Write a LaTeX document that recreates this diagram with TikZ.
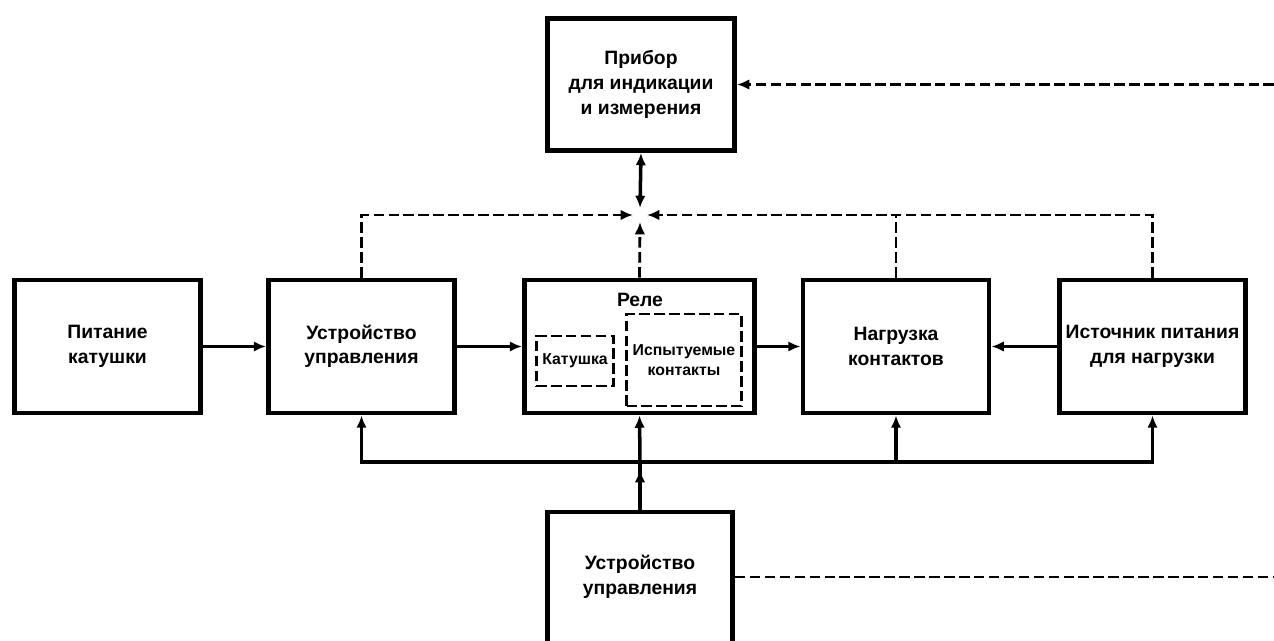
\documentclass[tikz,border=0pt]{standalone}
\usepackage{fontspec}
\setmainfont{Liberation Sans}
\usetikzlibrary{arrows.meta}
\begin{document}
\begin{tikzpicture}[x=0.02cm,y=-0.02cm,
    blk/.style={draw,line width=2.8pt,minimum width=3.72cm,minimum height=2.66cm,align=center,font=\bfseries\fontsize{11}{14}\selectfont},
    inblk/.style={draw,line width=1.6pt,dash pattern=on 6pt off 2.5pt,align=center,font=\bfseries\fontsize{9}{11}\selectfont},
    arr/.style={line width=2pt,-{Latex[length=7pt,width=6pt]}},
    dsh/.style={line width=1.6pt,dash pattern=on 6pt off 2.5pt},
    dsharr/.style={dsh,-{Latex[length=7pt,width=6pt]}}]
        \useasboundingbox (0,0) rectangle (1274,641);
        \clip (0,0) rectangle (1274,641);
        \node[blk] (coilsup) at (107.5,346.5) {Питание\\катушки};
        \node[blk] (ctrl) at (361.5,346.5) {Устройство\\управления};
        \node[blk,minimum width=4.6cm] (relay) at (639.5,346.5) {};
        \node[font=\bfseries\fontsize{11}{14}\selectfont] (relaytitle) at (640,300) {Реле};
        \node[inblk,minimum width=1.46cm,minimum height=1.0cm] (coil) at (575,361) {Катушка};
        \node[inblk,minimum width=2.3cm,minimum height=1.84cm] (contacts) at (684,360) {Испытуемые\\контакты};
        \node[blk] (load) at (896,346.5) {Нагрузка\\контактов};
        \node[blk] (loadsup) at (1152.5,346.5) {Источник питания\\для нагрузки};
        \node[blk,minimum width=3.74cm,minimum height=2.64cm] (meter) at (641,84.5) {Прибор\\для индикации\\и измерения};
        \node[blk,minimum width=3.7cm,minimum height=6cm,anchor=north] (ctrlB) at (640,509.5) {};
        \node[font=\bfseries\fontsize{11}{14}\selectfont,align=center] (ctrlBtext) at (640,577) {Устройство\\управления};
        \draw[arr] (coilsup) -- (ctrl);
        \draw[arr] (ctrl) -- (relay);
        \draw[arr] (relay) -- (load);
        \draw[arr] (loadsup) -- (load);
        \coordinate (hub) at (640,215);
        \coordinate (hubL) at (633,215);
        \coordinate (hubR) at (647,215);
        \coordinate (hubB) at (640,222);
        \coordinate (hubT) at (640,208);
        \draw[dsharr] (ctrl.north) |- (hubL);
        \draw[dsharr] (loadsup.north) |- (hubR);
        \draw[dsh] (load.north) -- (load.north |- hub);
        \draw[dsharr] (relay.north) -- (hubB);
        \draw[arr,{Latex[length=7pt,width=6pt]}-{Latex[length=7pt,width=6pt]}] (hubT) -- (meter.south);
        \coordinate (edgeT) at (1274,84.5);
        \coordinate (edgeB) at (1274,577);
        \draw[dsharr] (edgeT) -- (meter.east);
        \draw[dsh] (ctrlB.east |- ctrlBtext) -- (edgeB);
        \coordinate (bus) at (640,462);
        \coordinate (busin) at (640,470);
        \draw[line width=2pt] (ctrlB.north) -- (bus);
        \draw[arr] (ctrlB.north) -- (busin);
        \draw[arr] (bus) -| (ctrl.south);
        \draw[arr] (bus) -| (loadsup.south);
        \draw[arr] (load.south |- bus) -- (load.south);
        \draw[arr] (bus) -- (relay.south);
\end{tikzpicture}
\end{document}
